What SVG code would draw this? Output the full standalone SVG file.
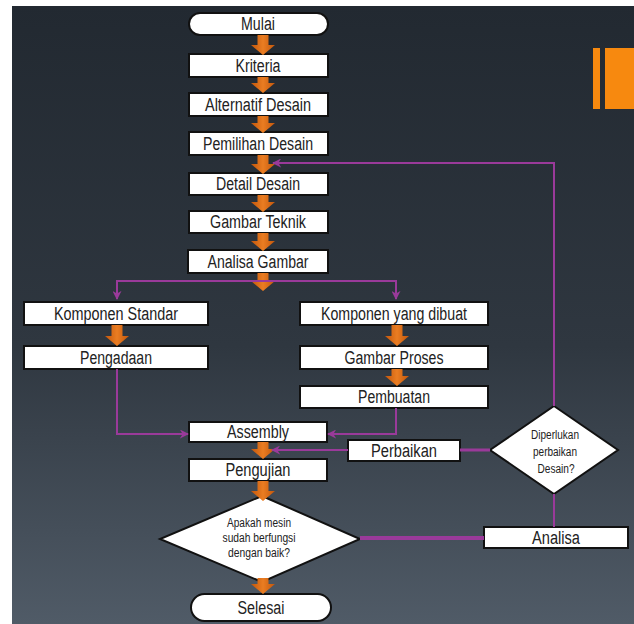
<svg xmlns="http://www.w3.org/2000/svg" width="634" height="624" viewBox="0 0 634 624">
<defs>
<linearGradient id="bg" x1="0" y1="0" x2="0" y2="1">
<stop offset="0" stop-color="#222931"/>
<stop offset="0.55" stop-color="#2f3740"/>
<stop offset="1" stop-color="#505b67"/>
</linearGradient>
<linearGradient id="og" x1="0" y1="0" x2="1" y2="0">
<stop offset="0" stop-color="#c2560b"/>
<stop offset="0.5" stop-color="#ea7d22"/>
<stop offset="1" stop-color="#c2560b"/>
</linearGradient>
<marker id="pa" viewBox="0 0 10 10" refX="9" refY="5" markerWidth="9" markerHeight="9" markerUnits="userSpaceOnUse" orient="auto">
<path d="M0,0 L10,5 L0,10 L3,5 z" fill="#9a3a9a"/>
</marker>
<style>
.box{fill:#ffffff;stroke:#111111;stroke-width:2}
.t{font-family:"Liberation Sans Narrow","Liberation Sans",Arial,sans-serif;font-size:18px;fill:#222222;text-anchor:middle;dominant-baseline:central}
.s{font-family:"Liberation Sans Narrow","Liberation Sans",Arial,sans-serif;font-size:12.5px;fill:#222222;text-anchor:middle;dominant-baseline:central}
.oa{fill:url(#og)}
.pl{fill:none;stroke:#9a3a9a;stroke-width:2}
</style>
</defs>
<rect x="0" y="0" width="634" height="624" fill="#ffffff"/>
<rect x="12" y="6" width="622" height="618" fill="url(#bg)"/>
<rect x="593" y="48" width="7" height="61" fill="#f7890f"/>
<rect x="605" y="48" width="29" height="61" fill="#f7890f"/>

<g id="mulai"><rect class="box" x="189" y="13" width="139" height="22" rx="11"/><text class="t" x="258" y="24" textLength="34" lengthAdjust="spacingAndGlyphs">Mulai</text></g>
<g id="kriteria"><rect class="box" x="189" y="54" width="139" height="23"/><text class="t" x="258" y="65.5" textLength="45" lengthAdjust="spacingAndGlyphs">Kriteria</text></g>
<g id="alternatif"><rect class="box" x="189" y="93" width="139" height="23"/><text class="t" x="258" y="104.5" textLength="106" lengthAdjust="spacingAndGlyphs">Alternatif Desain</text></g>
<g id="pemilihan"><rect class="box" x="189" y="132" width="139" height="23"/><text class="t" x="258" y="143.5" textLength="110" lengthAdjust="spacingAndGlyphs">Pemilihan Desain</text></g>
<g id="detail"><rect class="box" x="189" y="173" width="139" height="22"/><text class="t" x="258" y="184" textLength="84" lengthAdjust="spacingAndGlyphs">Detail Desain</text></g>
<g id="gambar-teknik"><rect class="box" x="189" y="211" width="139" height="22"/><text class="t" x="258" y="222" textLength="96" lengthAdjust="spacingAndGlyphs">Gambar Teknik</text></g>
<g id="analisa-gambar"><rect class="box" x="188" y="250" width="140" height="23"/><text class="t" x="258" y="261.5" textLength="101" lengthAdjust="spacingAndGlyphs">Analisa Gambar</text></g>
<g id="komponen-standar"><rect class="box" x="24" y="302" width="184" height="23"/><text class="t" x="116" y="313.5" textLength="124" lengthAdjust="spacingAndGlyphs">Komponen Standar</text></g>
<g id="komponen-dibuat"><rect class="box" x="300" y="302" width="188" height="23"/><text class="t" x="394" y="313.5" textLength="146" lengthAdjust="spacingAndGlyphs">Komponen yang dibuat</text></g>
<g id="pengadaan"><rect class="box" x="24" y="346" width="184" height="23"/><text class="t" x="116" y="357.5" textLength="72" lengthAdjust="spacingAndGlyphs">Pengadaan</text></g>
<g id="gambar-proses"><rect class="box" x="300" y="346" width="188" height="23"/><text class="t" x="394" y="357.5" textLength="99" lengthAdjust="spacingAndGlyphs">Gambar Proses</text></g>
<g id="pembuatan"><rect class="box" x="300" y="386" width="188" height="22"/><text class="t" x="394" y="397" textLength="72" lengthAdjust="spacingAndGlyphs">Pembuatan</text></g>
<g id="assembly"><rect class="box" x="189" y="422" width="138" height="20"/><text class="t" x="258" y="432" textLength="62" lengthAdjust="spacingAndGlyphs">Assembly</text></g>
<g id="perbaikan"><rect class="box" x="348" y="440" width="112" height="21"/><text class="t" x="404" y="450.5" textLength="66" lengthAdjust="spacingAndGlyphs">Perbaikan</text></g>
<g id="pengujian"><rect class="box" x="189" y="459" width="138" height="22"/><text class="t" x="258" y="470" textLength="65" lengthAdjust="spacingAndGlyphs">Pengujian</text></g>
<g id="diperlukan"><polygon class="box" points="554,406 618,450 554,494 490,450"/>
<text class="s" x="555" y="435" textLength="48" lengthAdjust="spacingAndGlyphs">Diperlukan</text>
<text class="s" x="555" y="452" textLength="44" lengthAdjust="spacingAndGlyphs">perbaikan</text>
<text class="s" x="556" y="469" textLength="37" lengthAdjust="spacingAndGlyphs">Desain?</text></g>
<g id="apakah"><polygon class="box" points="262,496 360,539 262,582 160,539"/>
<text class="s" x="259" y="523" textLength="64" lengthAdjust="spacingAndGlyphs">Apakah mesin</text>
<text class="s" x="259" y="538" textLength="73" lengthAdjust="spacingAndGlyphs">sudah berfungsi</text>
<text class="s" x="259" y="553" textLength="62" lengthAdjust="spacingAndGlyphs">dengan baik?</text></g>
<g id="analisa"><rect class="box" x="484" y="527" width="144" height="21"/><text class="t" x="556" y="537.5" textLength="48" lengthAdjust="spacingAndGlyphs">Analisa</text></g>
<g id="selesai"><rect class="box" x="191" y="594" width="140" height="27" rx="13.5"/><text class="t" x="261" y="607.5" textLength="47" lengthAdjust="spacingAndGlyphs">Selesai</text></g>

<g id="connectors">
<path class="oa" d="M257.5,35 H268.5 V45 H275 L263,55 L251,45 H257.5 Z"/>
<path class="oa" d="M257.5,77 H268.5 V83 H275 L263,93 L251,83 H257.5 Z"/>
<path class="oa" d="M257.5,116 H268.5 V123 H275 L263,133 L251,123 H257.5 Z"/>
<path class="oa" d="M257.5,155 H268.5 V164 H275 L263,174 L251,164 H257.5 Z"/>
<path class="oa" d="M257.5,195 H268.5 V202 H275 L263,212 L251,202 H257.5 Z"/>
<path class="oa" d="M257.5,233 H268.5 V241 H275 L263,251 L251,241 H257.5 Z"/>
<path class="oa" d="M257.5,273 H268.5 V281 H275 L263,291 L251,281 H257.5 Z"/>
<path class="oa" d="M111.5,325 H122.5 V336 H129 L117,346 L105,336 H111.5 Z"/>
<path class="oa" d="M391.5,325 H402.5 V336 H409 L397,346 L385,336 H391.5 Z"/>
<path class="oa" d="M391.5,369 H402.5 V376 H409 L397,386 L385,376 H391.5 Z"/>
<path class="oa" d="M257.5,442 H268.5 V449 H275 L263,459 L251,449 H257.5 Z"/>
<path class="oa" d="M257.5,481 H268.5 V491 H275 L263,501 L251,491 H257.5 Z"/>
<path class="oa" d="M257.5,578 H268.5 V584 H275 L263,594 L251,584 H257.5 Z"/>

<path class="pl" d="M263,281 H117 V299" marker-end="url(#pa)"/>
<path class="pl" d="M263,281 H396 V299" marker-end="url(#pa)"/>
<path class="pl" d="M117,369 V434 H188" marker-end="url(#pa)"/>
<path class="pl" d="M396,408 V434 H328" marker-end="url(#pa)"/>
<path class="pl" d="M348,450 H272" marker-end="url(#pa)"/>
<path class="pl" d="M490,450 H460" style="stroke-width:3"/>
<path class="pl" d="M554,406 V163 H273" marker-end="url(#pa)"/>
<path class="pl" d="M554,494 V527"/>
<path class="pl" d="M484,538 H360" style="stroke-width:4"/>
</g>
</svg>
